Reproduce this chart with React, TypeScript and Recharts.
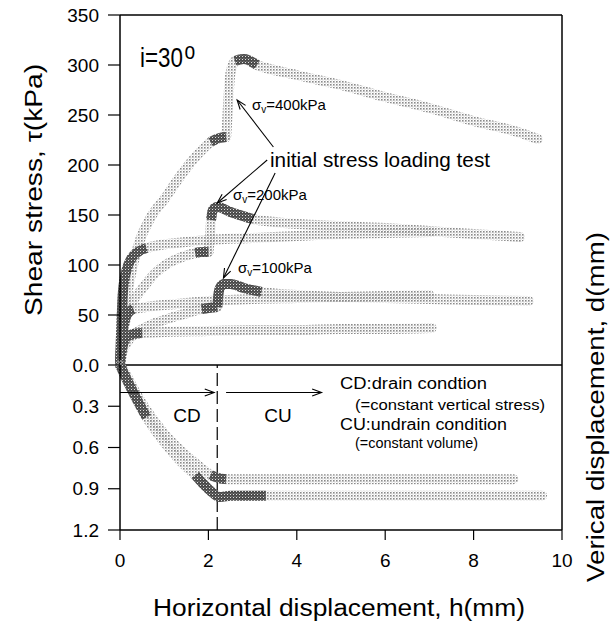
import React from 'react';
import { LineChart, Line, XAxis, YAxis, ReferenceLine } from 'recharts';

const FONT = "'Liberation Sans', Arial, sans-serif";

const xTicks = [0, 2, 4, 6, 8, 10];
const tauTicks = [50, 100, 150, 200, 250, 300, 350];
const dTicks = [0, 0.3, 0.6, 0.9, 1.2];

// constant vertical stress tests (to 7 mm)
const n50X = [0, 0.03, 0.08, 0.15, 0.3, 0.5, 1, 2, 3, 4, 5, 6, 7.05];
const n50T = [0, 12, 22, 28, 31, 32, 33, 34, 35, 35, 36, 36, 37];
const n100X = [0, 0.03, 0.08, 0.15, 0.3, 0.6, 1, 1.5, 2, 3, 4, 5, 6, 7];
const n100T = [0, 20, 38, 50, 56, 58, 60, 62, 64, 66, 67, 68, 69, 70];
const n200X = [0, 0.03, 0.07, 0.15, 0.25, 0.4, 0.6, 0.9, 1.5, 2, 3, 4, 5, 6, 7.05];
const n200T = [0, 40, 75, 95, 106, 113, 117, 120, 123, 125, 127, 129, 131, 132, 133];

// initial stress loading tests: CD part
const i100cdX = [0, 0.05, 0.15, 0.3, 0.5, 0.8, 1.2, 1.6, 1.85, 2.0, 2.2];
const i100cdT = [0, 12, 22, 30, 36, 42, 48, 53, 56, 57, 58];
const i200cdX = [0, 0.03, 0.1, 0.25, 0.5, 0.8, 1.1, 1.4, 1.7, 1.85, 2.0];
const i200cdT = [0, 20, 40, 60, 76, 92, 102, 108, 112, 113, 113];
const i400cdX = [0, 0.03, 0.1, 0.2, 0.43, 0.7, 1.04, 1.3, 1.63, 1.9, 2.05, 2.25, 2.4];
const i400cdT = [0, 25, 50, 80, 122, 148, 168, 185, 204, 217, 223, 227, 228];

// initial stress loading tests: CU part
const i100cuX = [2.2, 2.22, 2.26, 2.35, 2.5, 2.8, 3.2, 4, 5, 6, 7, 8, 9.25];
const i100cuT = [58, 68, 77, 81, 81, 77, 73, 70, 68, 67, 66, 65, 64];
const i200cuX = [2.0, 2.03, 2.06, 2.1, 2.2, 2.5, 3.0, 3.5, 4, 5, 6, 7, 8, 9.05];
const i200cuT = [113, 125, 145, 155, 158, 153, 146, 143, 141, 139, 137, 134, 131, 128];
const i400cuX = [2.4, 2.42, 2.45, 2.5, 2.6, 2.8, 3.1, 4, 5, 6, 7, 8, 9, 9.45];
const i400cuT = [228, 240, 265, 292, 304, 306, 300, 290, 280, 268, 257, 244, 233, 226];

// vertical displacement
const v1X = [0, 0.1, 0.3, 0.6, 1.0, 1.4, 1.8, 2.05, 2.2, 2.4, 3, 4, 5, 6, 7, 8, 8.9];
const v1D = [0, 0.05, 0.17, 0.33, 0.5, 0.63, 0.74, 0.8, 0.82, 0.83, 0.83, 0.83, 0.83, 0.83, 0.83, 0.83, 0.83];
const v2X = [0, 0.1, 0.3, 0.6, 1.0, 1.4, 1.7, 1.9, 2.1, 2.25, 2.5, 3, 3.3, 4, 5, 6, 7, 8, 9, 9.55];
const v2D = [0, 0.07, 0.2, 0.38, 0.56, 0.71, 0.8, 0.87, 0.93, 0.96, 0.95, 0.95, 0.95, 0.95, 0.95, 0.95, 0.95, 0.95, 0.95, 0.95];

type Pt = { x: number; y: number };
const toPts = (xs: number[], ys: number[]): Pt[] => xs.map((x, i) => ({ x, y: ys[i] }));

const stressSeries = [
  { key: 'n50', pts: toPts(n50X, n50T), dark: [0, 0.5] },
  { key: 'n100', pts: toPts(n100X, n100T), dark: [0, 0.35] },
  { key: 'n200', pts: toPts(n200X, n200T), dark: [0, 0.7] },
  { key: 'i100cd', pts: toPts(i100cdX, i100cdT), dark: [1.8, 2.2] },
  { key: 'i200cd', pts: toPts(i200cdX, i200cdT), dark: [1.65, 2.0] },
  { key: 'i400cd', pts: toPts(i400cdX, i400cdT), dark: [2.0, 2.45] },
  { key: 'i100cu', pts: toPts(i100cuX, i100cuT), dark: [2.2, 3.3] },
  { key: 'i200cu', pts: toPts(i200cuX, i200cuT), dark: [2.05, 3.1] },
  { key: 'i400cu', pts: toPts(i400cuX, i400cuT), dark: [2.55, 3.2] },
];

const dispSeries = [
  { key: 'v1', pts: toPts(v1X, v1D), dark: [2.0, 2.45] },
  { key: 'v2', pts: toPts(v2X, v2D), dark: [1.6, 3.3] },
];
const dispDarkStart = toPts(v2X, v2D).filter(p => p.x <= 0.6);

const inRange = (pts: Pt[], r: number[]) => pts.filter(p => p.x >= r[0] && p.x <= r[1]);

const axisStroke = { stroke: '#000', strokeWidth: 1.5 };
const tickStyle = { fontSize: 19, fill: '#000', fontFamily: FONT };

const Arrow = (p: any) => {
  const { x1, y1, x2, y2 } = p;
  const a = Math.atan2(y2 - y1, x2 - x1);
  const L = 10, w = 0.35;
  const pts = `${x2 - L * Math.cos(a - w)},${y2 - L * Math.sin(a - w)} ${x2},${y2} ${x2 - L * Math.cos(a + w)},${y2 - L * Math.sin(a + w)}`;
  return (
    <g>
      <line x1={x1} y1={y1} x2={x2} y2={y2} stroke="#000" strokeWidth={1.1} />
      <polyline points={pts} fill="none" stroke="#000" strokeWidth={1.1} />
    </g>
  );
};

const band = (key: string, pts: Pt[], dark: boolean) => (
  <Line
    key={key + (dark ? '-d' : '')}
    data={pts}
    dataKey="y"
    type="monotone"
    stroke={dark ? 'url(#stipDark)' : 'url(#stipLight)'}
    strokeWidth={10}
    strokeLinecap={dark ? 'butt' : 'round'}
    strokeLinejoin="round"
    dot={false}
    activeDot={false}
    isAnimationActive={false}
  />
);

export default function App() {
  return (
    <div style={{ position: 'absolute', left: 0, top: 0, width: 616, height: 623, background: '#fff', fontFamily: FONT }}>
      <svg width={0} height={0} style={{ position: 'absolute' }}>
        <defs>
          <pattern id="stipLight" width={3} height={3} patternUnits="userSpaceOnUse">
            <rect x={0} y={0} width={1.6} height={1.6} fill="#8a8a8a" />
            <rect x={1.5} y={1.5} width={1} height={1} fill="#b5b5b5" />
          </pattern>
          <pattern id="stipDark" width={3} height={3} patternUnits="userSpaceOnUse">
            <rect x={0} y={0} width={3} height={3} fill="#4c4c4c" />
            <rect x={2} y={2} width={1} height={1} fill="#e0e0e0" />
            <rect x={0.5} y={1} width={0.8} height={0.8} fill="#a0a0a0" />
          </pattern>
        </defs>
      </svg>

      <div style={{ position: 'absolute', left: 0, top: 0 }}>
        <LineChart width={616} height={380} margin={{ top: 15, right: 54, bottom: 15, left: 60 }}>
          <XAxis type="number" dataKey="x" domain={[0, 10]} ticks={xTicks} hide />
          <YAxis
            type="number"
            domain={[0, 350]}
            ticks={tauTicks}
            width={60}
            tickSize={12}
            tickMargin={9}
            tick={tickStyle}
            axisLine={axisStroke}
            tickLine={{ stroke: '#000', strokeWidth: 1.2 }}
          />
          <ReferenceLine y={350} stroke="#000" strokeWidth={1.5} />
          <ReferenceLine x={10} stroke="#000" strokeWidth={1.5} />
          {stressSeries.map(s => band(s.key, s.pts, false))}
          {stressSeries.map(s => band(s.key, inRange(s.pts, s.dark), true))}
          <ReferenceLine segment={[{ x: 3.47, y: 218 }, { x: 2.65, y: 265 }]} shape={Arrow} />
          <ReferenceLine segment={[{ x: 3.33, y: 205 }, { x: 2.2, y: 162 }]} shape={Arrow} />
          <ReferenceLine segment={[{ x: 3.51, y: 192 }, { x: 2.34, y: 87 }]} shape={Arrow} />
        </LineChart>
      </div>

      <div style={{ position: 'absolute', left: 0, top: 345 }}>
        <LineChart width={616} height={278} margin={{ top: 20, right: 54, bottom: 63, left: 60 }}>
          <XAxis
            type="number"
            dataKey="x"
            domain={[0, 10]}
            ticks={xTicks}
            height={30}
            tickSize={10}
            tickMargin={14}
            tick={tickStyle}
            axisLine={axisStroke}
            tickLine={{ stroke: '#000', strokeWidth: 1.2 }}
          />
          <YAxis
            type="number"
            domain={[0, 1.2]}
            reversed
            ticks={dTicks}
            width={60}
            tickSize={12}
            tickMargin={9}
            tick={tickStyle}
            tickFormatter={(v: number) => v.toFixed(1)}
            axisLine={axisStroke}
            tickLine={{ stroke: '#000', strokeWidth: 1.2 }}
          />
          <ReferenceLine y={0} stroke="#000" strokeWidth={1.5} />
          <ReferenceLine x={10} stroke="#000" strokeWidth={1.5} />
          <ReferenceLine x={2.2} stroke="#000" strokeWidth={1.2} strokeDasharray="13 5" />
          {dispSeries.map(s => band(s.key, s.pts, false))}
          {band('v2start', dispDarkStart, true)}
          {dispSeries.map(s => band(s.key, inRange(s.pts, s.dark), true))}
          <ReferenceLine segment={[{ x: 0, y: 0.2 }, { x: 2.13, y: 0.2 }]} shape={Arrow} />
          <ReferenceLine segment={[{ x: 2.4, y: 0.2 }, { x: 4.56, y: 0.2 }]} shape={Arrow} />
        </LineChart>
      </div>

      <svg width={616} height={623} style={{ position: 'absolute', left: 0, top: 0, pointerEvents: 'none' }} fontFamily={FONT}>
        <text transform="translate(140,67) scale(0.8,1)" fontSize={28}>
          i=30<tspan fontSize={24} dx={2} dy={-8}>o</tspan>
        </text>

        <text x={252} y={110} fontSize={15}>σ<tspan fontSize={10} dy={3}>v</tspan><tspan dy={-3}>=400kPa</tspan></text>
        <text x={233} y={200} fontSize={15}>σ<tspan fontSize={10} dy={3}>v</tspan><tspan dy={-3}>=200kPa</tspan></text>
        <text x={238} y={273} fontSize={15}>σ<tspan fontSize={10} dy={3}>v</tspan><tspan dy={-3}>=100kPa</tspan></text>
        <text x={270} y={167} fontSize={20} textLength={220} lengthAdjust="spacingAndGlyphs">initial stress loading test</text>

        <text x={187} y={422} fontSize={19} textAnchor="middle">CD</text>
        <text x={278} y={422} fontSize={19} textAnchor="middle">CU</text>
        <text x={340} y={389} fontSize={16} textLength={147} lengthAdjust="spacingAndGlyphs">CD:drain condtion</text>
        <text x={355} y={410} fontSize={15} textLength={190} lengthAdjust="spacingAndGlyphs">(=constant vertical stress)</text>
        <text x={340} y={430} fontSize={16} textLength={167} lengthAdjust="spacingAndGlyphs">CU:undrain condition</text>
        <text x={355} y={448} fontSize={15} textLength={123} lengthAdjust="spacingAndGlyphs">(=constant volume)</text>

        <text x={339} y={616} fontSize={23} textAnchor="middle" textLength={372} lengthAdjust="spacingAndGlyphs">Horizontal displacement, h(mm)</text>
        <text transform="translate(42,190) rotate(-90)" fontSize={23} textAnchor="middle" textLength={252} lengthAdjust="spacingAndGlyphs">Shear stress, τ(kPa)</text>
        <text transform="translate(604,407) rotate(-90)" fontSize={23} textAnchor="middle" textLength={350} lengthAdjust="spacingAndGlyphs">Verical displacement, d(mm)</text>
      </svg>
    </div>
  );
}
